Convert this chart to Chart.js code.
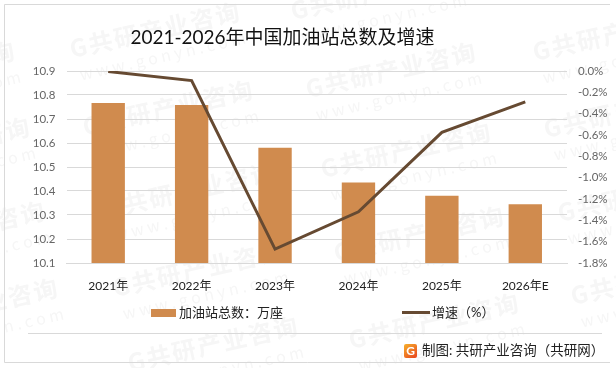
<!DOCTYPE html>
<html lang="zh">
<head>
<meta charset="utf-8">
<title>2021-2026年中国加油站总数及增速</title>
<script src="https://cdn.jsdelivr.net/npm/chart.js@4/dist/chart.umd.min.js"></script>
<style>
  html, body { margin: 0; padding: 0; background: #fff; }
  canvas { display: block; }
</style>
</head>
<body>
<canvas id="chart" width="616" height="368"></canvas>
<script>
const chartTitle = '2021-2026年中国加油站总数及增速';
const years      = ['2021年', '2022年', '2023年', '2024年', '2025年', '2026年E'];
const stations   = [10.767, 10.758, 10.58, 10.435, 10.38, 10.345];
const growth     = [-0.005, -0.09, -1.67, -1.32, -0.575, -0.29];
const stationsName = '加油站总数：万座';
const growthName   = '增速（%）';
const credit       = '制图: 共研产业咨询（共研网）';

const FONT = 'Lato, "Noto Sans CJK SC", sans-serif';
const BAR_COLOR  = '#d08b4e';
const LINE_COLOR = '#664a32';
const GRID_COLOR = '#d9d9d9';

// watermark start points
const marks = [
  [-153, 97], [-138, 173], [-123, 257], [-110, 334],
  [72, 58], [85, 136], [107, 218], [115, 297], [130, 372],
  [293, 20], [308, 98], [323, 178], [336, 262], [351, 349],
  [535, 61], [546, 138], [560, 222], [573, 305]
];

const backdrop = {
  id: 'backdrop',
  beforeDraw(chart) {
    const ctx = chart.ctx;
    ctx.save();
    ctx.fillStyle = '#fff';
    ctx.fillRect(0, 0, chart.width, chart.height);

    // watermarks
    marks.forEach(([x, y]) => {
      ctx.save();
      ctx.translate(x, y);
      ctx.rotate(-12.7 * Math.PI / 180);
      ctx.fillStyle = '#f6f6f6';
      ctx.font = 'bold 24px "Noto Sans CJK SC"';
      ctx.letterSpacing = '2px';
      ctx.fillText('G共研产业咨询', 0, 0);
      ctx.font = '16px "Noto Sans CJK SC"';
      ctx.letterSpacing = '0px';
      ctx.fillText('w w w . g o n y n . c o m', 4, 24);
      ctx.restore();
    });

    // frame (open on the right, the picture is cut there) and the rule above the credit
    ctx.strokeStyle = GRID_COLOR;
    ctx.lineWidth = 1;
    ctx.beginPath();
    ctx.moveTo(610, 4.5);
    ctx.lineTo(4.5, 4.5);
    ctx.lineTo(4.5, 362.5);
    ctx.lineTo(610, 362.5);
    ctx.moveTo(28, 333.5);
    ctx.lineTo(602, 333.5);
    ctx.stroke();

    // title
    ctx.fillStyle = '#111';
    ctx.font = '19px ' + FONT;
    ctx.textAlign = 'center';
    ctx.textBaseline = 'middle';
    ctx.fillText(chartTitle, 282.5, 38);

    // legend
    ctx.font = '13px ' + FONT;
    ctx.textAlign = 'left';
    ctx.fillStyle = BAR_COLOR;
    ctx.fillRect(151, 309, 25, 8);
    ctx.fillStyle = '#222';
    ctx.fillText(stationsName, 179, 313);
    ctx.strokeStyle = LINE_COLOR;
    ctx.lineWidth = 3;
    ctx.beginPath();
    ctx.moveTo(402, 312.5);
    ctx.lineTo(430, 312.5);
    ctx.stroke();
    ctx.fillText(growthName, 432, 313);

    // credit with its logo
    const grad = ctx.createLinearGradient(404, 343, 416, 358);
    grad.addColorStop(0, '#f7b52c');
    grad.addColorStop(1, '#e8461e');
    ctx.fillStyle = grad;
    ctx.beginPath();
    ctx.roundRect(404, 344, 13, 14, 2);
    ctx.fill();
    ctx.fillStyle = '#fff';
    ctx.font = 'bold 12px ' + FONT;
    ctx.textAlign = 'center';
    ctx.fillText('G', 410.5, 351);
    ctx.fillStyle = '#222';
    ctx.font = '13.5px ' + FONT;
    ctx.textAlign = 'left';
    ctx.fillText(credit, 422, 351);
    ctx.restore();
  }
};

new Chart(document.getElementById('chart'), {
  data: {
    labels: years,
    datasets: [
      {
        type: 'line',
        label: growthName,
        data: growth,
        yAxisID: 'y1',
        borderColor: LINE_COLOR,
        borderWidth: 3,
        pointRadius: 0,
        tension: 0,
        order: 1
      },
      {
        type: 'bar',
        label: stationsName,
        data: stations,
        yAxisID: 'y',
        backgroundColor: BAR_COLOR,
        categoryPercentage: 1,
        barPercentage: 0.4,
        order: 2
      }
    ]
  },
  options: {
    responsive: false,
    animation: false,
    layout: { padding: { top: 71, left: 0, right: 0, bottom: 0 } },
    plugins: { legend: { display: false }, title: { display: false }, tooltip: { enabled: false } },
    scales: {
      x: {
        grid: { display: false },
        border: { color: GRID_COLOR },
        ticks: { color: '#222', font: { family: FONT, size: 12 }, padding: 8, maxRotation: 0 },
        afterFit(axis) { axis.height = 105; }
      },
      y: {
        min: 10.1,
        max: 10.9,
        grid: { color: GRID_COLOR, drawTicks: false },
        border: { display: false },
        ticks: {
          stepSize: 0.1,
          color: '#666',
          font: { family: FONT, size: 11.5 },
          padding: 11,
          callback: v => v.toFixed(1)
        },
        afterFit(axis) { axis.width = 66.5; }
      },
      y1: {
        position: 'right',
        min: -1.8,
        max: 0,
        grid: { display: false, drawTicks: false },
        border: { display: false },
        ticks: {
          stepSize: 0.2,
          color: '#666',
          font: { family: FONT, size: 11.5 },
          padding: 11,
          callback: v => v.toFixed(1) + '%'
        },
        afterFit(axis) { axis.width = 49; }
      }
    }
  },
  plugins: [backdrop]
});
</script>
</body>
</html>
